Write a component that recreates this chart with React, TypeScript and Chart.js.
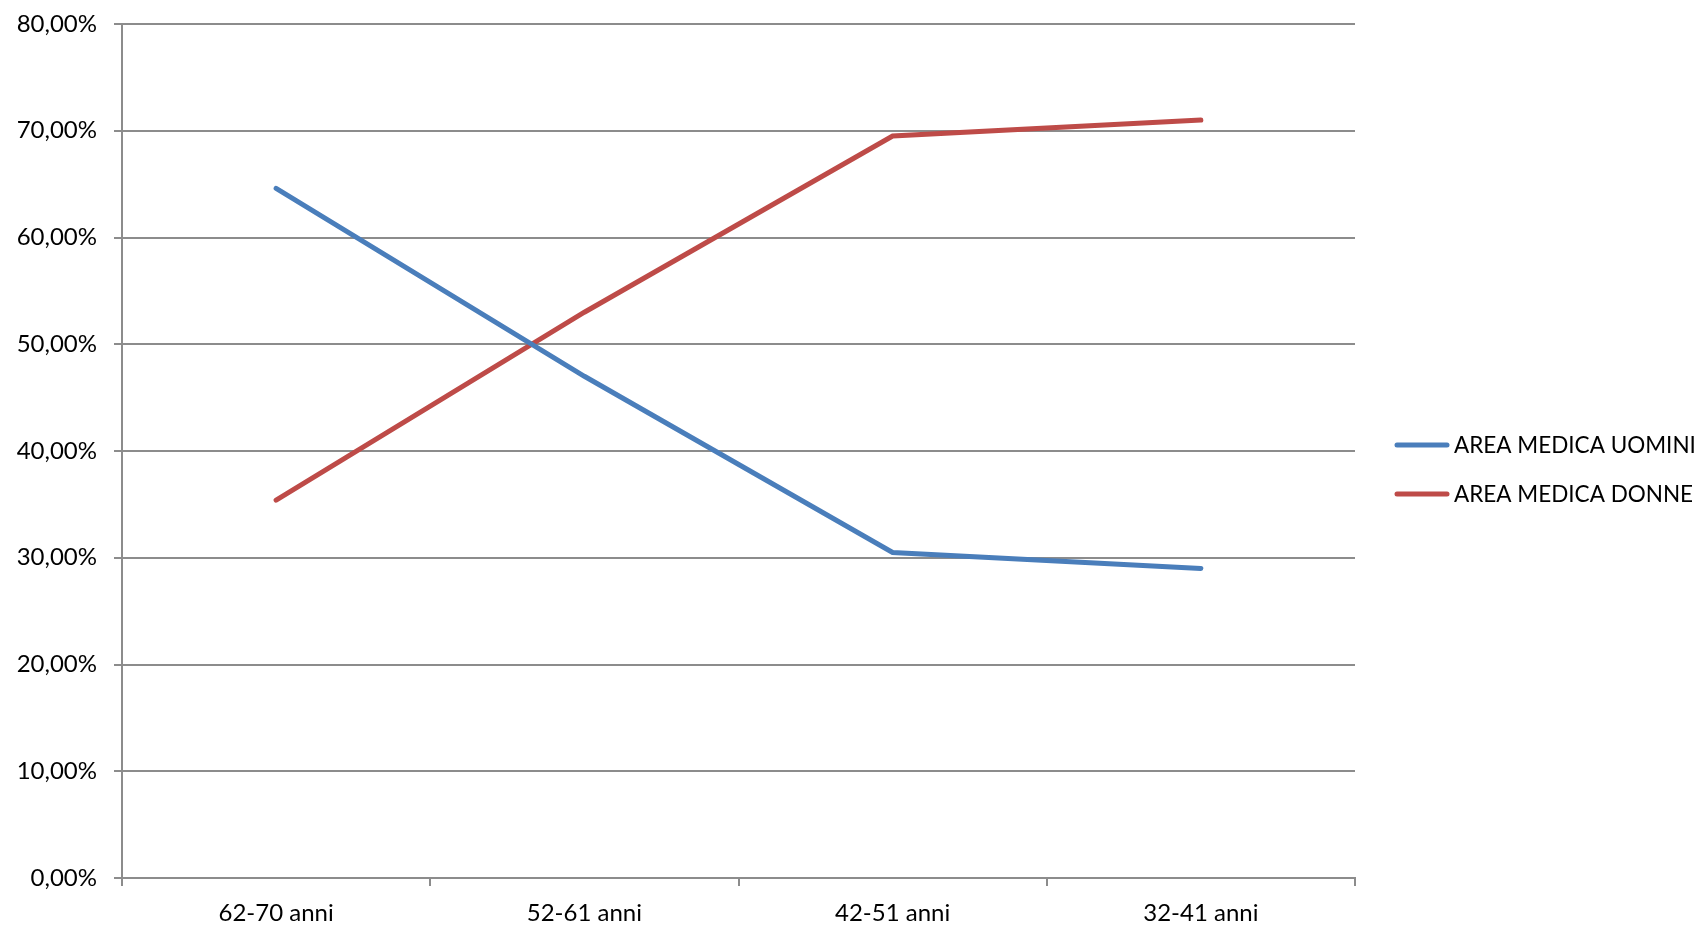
import React, { useEffect, useRef } from "react";
import { Chart, registerables } from "chart.js";

Chart.register(...registerables);

const categories = ["62-70 anni", "52-61 anni", "42-51 anni", "32-41 anni"];
const seriesNames = ["AREA MEDICA UOMINI", "AREA MEDICA DONNE"];
const uomini = [64.6, 47.0, 30.5, 29.0];
const donne = [35.4, 53.0, 69.5, 71.0];
const yTicks = [0, 10, 20, 30, 40, 50, 60, 70, 80];

const BLUE = "#4A7EBB";
const RED = "#BE4B48";
const GRID = "#8C8C8C";
const FONT = "Lato";
const FONT_SIZE = 24;
const LEGEND_FONT_SIZE = 22.5;

const customLegend = {
  id: "customLegend",
  afterDraw(chart: any) {
    const { ctx, chartArea } = chart;
    const x0 = chartArea.right + 42;
    const lineW = 50;
    const yStart = 445;
    const step = 49;
    ctx.save();
    chart.data.datasets.forEach((ds: any, i: number) => {
      const y = yStart + i * step;
      ctx.beginPath();
      ctx.strokeStyle = ds.borderColor;
      ctx.lineWidth = 5;
      ctx.lineCap = "round";
      ctx.moveTo(x0, y);
      ctx.lineTo(x0 + lineW, y);
      ctx.stroke();
      ctx.fillStyle = "#000";
      ctx.font = `${LEGEND_FONT_SIZE}px ${FONT}`;
      ctx.textBaseline = "middle";
      ctx.textAlign = "left";
      ctx.fillText(ds.label, x0 + lineW + 7, y + 1);
    });
    ctx.restore();
  },
};

export default function App() {
  const ref = useRef<HTMLCanvasElement>(null);
  useEffect(() => {
    if (!ref.current) return;
    const chart = new Chart(ref.current, {
      type: "line",
      data: {
        labels: categories,
        datasets: [
          {
            label: seriesNames[0],
            data: uomini,
            borderColor: BLUE,
            backgroundColor: BLUE,
            borderWidth: 5,
            pointRadius: 0,
            borderCapStyle: "round",
            borderJoinStyle: "miter",
            tension: 0,
          },
          {
            label: seriesNames[1],
            data: donne,
            borderColor: RED,
            backgroundColor: RED,
            borderWidth: 5,
            pointRadius: 0,
            borderCapStyle: "round",
            borderJoinStyle: "miter",
            tension: 0,
          },
        ],
      },
      options: {
        animation: false,
        responsive: true,
        maintainAspectRatio: false,
        layout: { padding: { top: 24, right: 348, bottom: 0, left: 0 } },
        plugins: {
          legend: { display: false },
          tooltip: { enabled: false },
        },
        scales: {
          x: {
            offset: true,
            grid: {
              offset: true,
              drawOnChartArea: false,
              drawTicks: true,
              tickLength: 8,
              color: GRID,
              lineWidth: 2,
            },
            border: { display: true, color: GRID, width: 2 },
            ticks: {
              color: "#000",
              font: { family: FONT, size: FONT_SIZE },
              padding: 13,
              maxRotation: 0,
            },
            afterFit: (s: any) => {
              s.height = 48;
            },
          },
          y: {
            min: yTicks[0],
            max: yTicks[yTicks.length - 1],
            afterBuildTicks: (s: any) => {
              s.ticks = yTicks.map((v) => ({ value: v }));
            },
            grid: {
              color: GRID,
              lineWidth: 2,
              tickLength: 8,
              drawTicks: true,
            },
            border: { display: true, color: GRID, width: 2 },
            ticks: {
              color: "#000",
              font: { family: FONT, size: FONT_SIZE },
              padding: 17,
              callback: (v: any) => Number(v).toFixed(2).replace(".", ",") + "%",
            },
            afterFit: (s: any) => {
              s.width = 122;
              s.paddingTop = 0;
              s.paddingBottom = 0;
            },
          },
        },
      },
      plugins: [customLegend],
    });
    return () => chart.destroy();
  }, []);
  return (
    <div
      style={{
        position: "fixed",
        left: 0,
        top: 0,
        width: 1703,
        height: 926,
        background: "#fff",
      }}
    >
      <canvas ref={ref} />
    </div>
  );
}
